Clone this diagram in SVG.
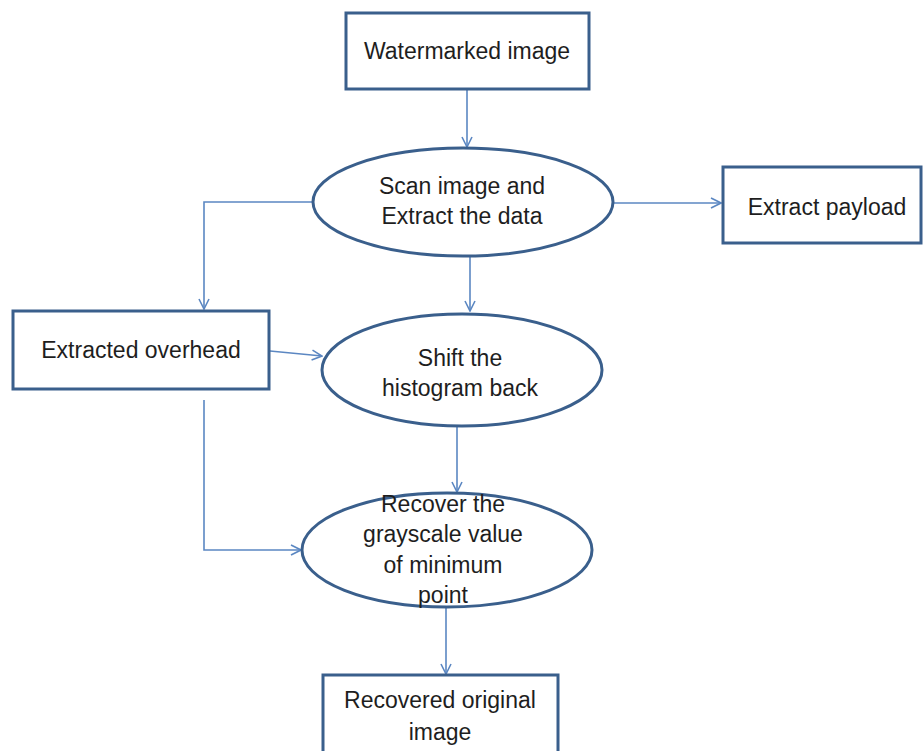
<svg xmlns="http://www.w3.org/2000/svg" width="923" height="751" viewBox="0 0 923 751">
  <style>
    .box { fill: #ffffff; stroke: #3a5f8c; stroke-width: 3; }
    .lbl { font-family: "Liberation Sans", Arial, sans-serif; font-size: 23px; fill: #1e1e1e; text-anchor: middle; }
    .conn { fill: none; stroke: #5b87c2; stroke-width: 1.6; }
  </style>
  <defs>
    <marker id="arrow" viewBox="0 0 12 12" refX="11" refY="6" markerWidth="12" markerHeight="12" markerUnits="userSpaceOnUse" orient="auto">
      <polyline points="1,1 11,6 1,11" fill="none" stroke="#5b87c2" stroke-width="1.6"/>
    </marker>
  </defs>
  <rect width="923" height="751" fill="#ffffff"/>

  <g id="connectors" class="conn">
    <line x1="467" y1="90" x2="467" y2="147" marker-end="url(#arrow)"/>
    <line x1="613" y1="203" x2="721" y2="203" marker-end="url(#arrow)"/>
    <polyline points="313,202 204,202 204,309" marker-end="url(#arrow)"/>
    <line x1="470" y1="257" x2="470" y2="311" marker-end="url(#arrow)"/>
    <line x1="270" y1="351" x2="322" y2="356" marker-end="url(#arrow)"/>
    <line x1="457" y1="427" x2="457" y2="492" marker-end="url(#arrow)"/>
    <polyline points="204,400 204,550 301,550" marker-end="url(#arrow)"/>
    <line x1="446" y1="608" x2="446" y2="674" marker-end="url(#arrow)"/>
  </g>

  <g id="watermarked">
    <rect class="box" x="346" y="13" width="243" height="76"/>
    <text class="lbl" x="467" y="59">Watermarked image</text>
  </g>

  <g id="scan">
    <ellipse class="box" cx="463" cy="202" rx="150" ry="54"/>
    <text class="lbl" x="462" y="194">Scan image and</text>
    <text class="lbl" x="462" y="224">Extract the data</text>
  </g>

  <g id="payload">
    <rect class="box" x="723" y="167" width="198" height="76"/>
    <text class="lbl" x="827" y="215">Extract payload</text>
  </g>

  <g id="overhead">
    <rect class="box" x="13" y="311" width="256" height="78"/>
    <text class="lbl" x="141" y="358">Extracted overhead</text>
  </g>

  <g id="shift">
    <ellipse class="box" cx="462" cy="370" rx="140" ry="56"/>
    <text class="lbl" x="460" y="366">Shift the</text>
    <text class="lbl" x="460" y="396">histogram back</text>
  </g>

  <g id="recover">
    <ellipse class="box" cx="447" cy="550" rx="145" ry="57"/>
    <text class="lbl" x="443" y="512">Recover the</text>
    <text class="lbl" x="443" y="542">grayscale value</text>
    <text class="lbl" x="443" y="573">of minimum</text>
    <text class="lbl" x="443" y="603">point</text>
  </g>

  <g id="original">
    <rect class="box" x="323" y="675" width="235" height="90"/>
    <text class="lbl" x="440" y="708">Recovered original</text>
    <text class="lbl" x="440" y="740">image</text>
  </g>
</svg>
